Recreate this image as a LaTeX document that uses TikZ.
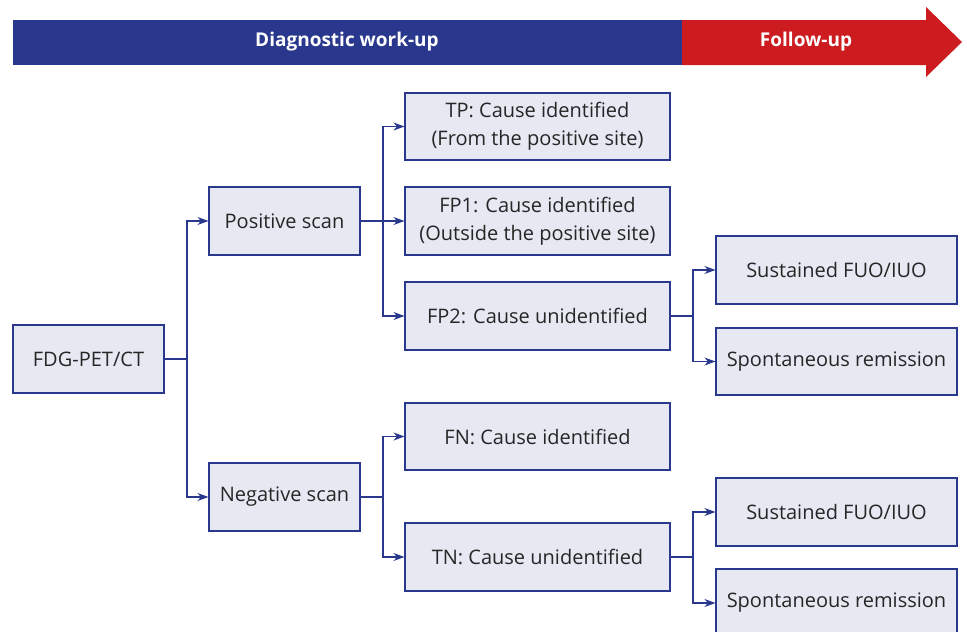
\documentclass[tikz,border=0pt]{standalone}
\usepackage{fontspec}
\setmainfont{Open Sans}
\usetikzlibrary{arrows.meta}
\definecolor{fuoBlue}{RGB}{41,56,140}
\definecolor{fuoRed}{RGB}{204,28,31}
\definecolor{fuoFill}{RGB}{230,233,242}
\tikzset{
  fuobox/.style={draw=fuoBlue, fill=fuoFill, line width=1.1pt, inner sep=0pt,
    align=center, font=\fontsize{20}{28}\selectfont, text=black!85},
  fuolink/.style={draw=fuoBlue, line width=1.1pt,
    -{Stealth[length=11pt,width=8pt]}},
  fuoline/.style={draw=fuoBlue, line width=1.1pt},
  banner/.style={text=white, font=\fontsize{19}{22}\selectfont\bfseries}
}
\begin{document}
\begin{tikzpicture}[x=1pt, y=-1pt]
\useasboundingbox (0,0) rectangle (967,632);
% Banner on top
\fill[fuoBlue] (13,20) rectangle (683,65);
\fill[fuoRed] (682,20) -- (926,20) -- (926,7) -- (962,42) -- (926,77) -- (926,65) -- (682,65) -- cycle;
\node[banner] (diag) at (347,42) {Diagnostic work-up};
\node[banner] (follow) at (806,42) {Follow-up};
% Boxes
\node[fuobox, minimum width=151pt, minimum height=68pt] (fdg) at (88.5,359) {FDG-PET/CT};
\node[fuobox, minimum width=151pt, minimum height=68pt] (pos) at (284.5,221) {Positive scan};
\node[fuobox, minimum width=151pt, minimum height=68pt] (neg) at (284.5,497) {Negative scan};
\node[fuobox, minimum width=265pt, minimum height=67pt] (tp) at (537.5,126.5) {TP: Cause identified\\(From the positive site)};
\node[fuobox, minimum width=265pt, minimum height=68pt] (fpa) at (537.5,221) {FP1: Cause identified\\(Outside the positive site)};
\node[fuobox, minimum width=265pt, minimum height=68pt] (fpb) at (537.5,316) {FP2: Cause unidentified};
\node[fuobox, minimum width=265pt, minimum height=67pt] (fn) at (537.5,436.5) {FN: Cause identified};
\node[fuobox, minimum width=265pt, minimum height=68pt] (tn) at (537.5,557) {TN: Cause unidentified};
\node[fuobox, minimum width=241pt, minimum height=68pt] (susa) at (836.5,270) {Sustained FUO/IUO};
\node[fuobox, minimum width=241pt, minimum height=67pt] (spta) at (836.5,361.5) {Spontaneous remission};
\node[fuobox, minimum width=241pt, minimum height=68pt] (susb) at (836.5,512) {Sustained FUO/IUO};
\node[fuobox, minimum width=241pt, minimum height=68pt] (sptb) at (836.5,603) {Spontaneous remission};
% Junctions
\coordinate (jfdg) at (187,359);
\coordinate (jpos) at (383,221);
\coordinate (jneg) at (383,497);
\coordinate (jfpb) at (693,316);
\coordinate (jtn) at (693,557);
% Connectors
\draw[fuoline] (fdg.east) -- (jfdg);
\draw[fuolink] (jfdg) |- (pos.west);
\draw[fuolink] (jfdg) |- (neg.west);
\draw[fuoline] (pos.east) -- (jpos);
\draw[fuolink] (jpos) |- (tp.west);
\draw[fuolink] (jpos) -- (fpa.west);
\draw[fuolink] (jpos) |- (fpb.west);
\draw[fuoline] (neg.east) -- (jneg);
\draw[fuolink] (jneg) |- (fn.west);
\draw[fuolink] (jneg) |- (tn.west);
\draw[fuoline] (fpb.east) -- (jfpb);
\draw[fuolink] (jfpb) |- (susa.west);
\draw[fuolink] (jfpb) |- (spta.west);
\draw[fuoline] (tn.east) -- (jtn);
\draw[fuolink] (jtn) |- (susb.west);
\draw[fuolink] (jtn) |- (sptb.west);
\end{tikzpicture}
\end{document}
